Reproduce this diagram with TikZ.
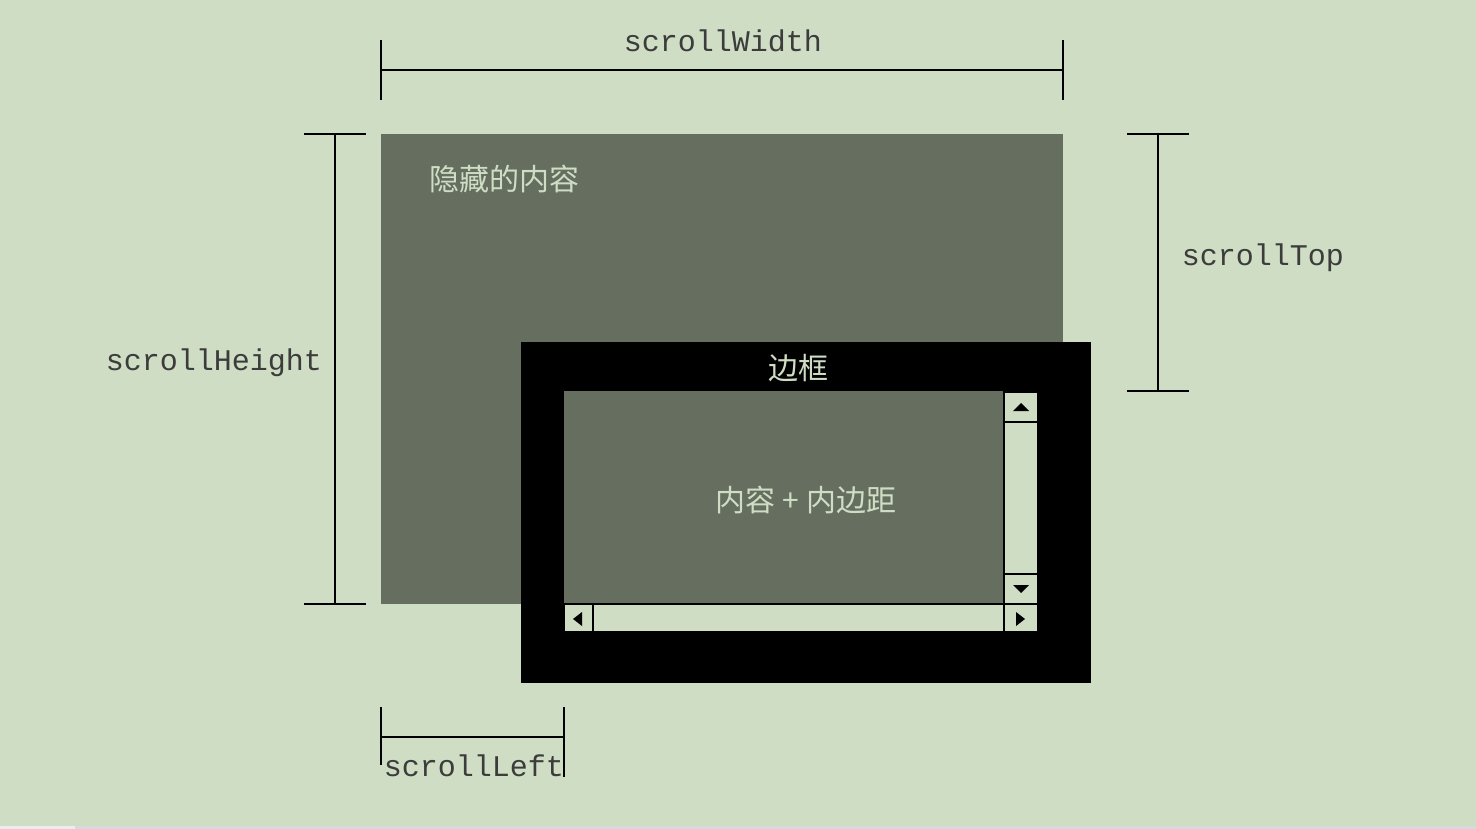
\documentclass[tikz,border=0pt]{standalone}
\usepackage{fontspec}
\setmonofont{Liberation Mono}
\newfontfamily\cjk{Noto Sans CJK SC}
\definecolor{bg}{HTML}{CEDDC3}
\definecolor{hid}{HTML}{666E60}
\definecolor{pale}{HTML}{CEDDC3}
\definecolor{lbltext}{HTML}{3C3C3C}
\definecolor{stripa}{HTML}{ECECEF}
\definecolor{stripb}{HTML}{D6DADF}
\begin{document}
\begin{tikzpicture}[x=1pt,y=-1pt,
  dimline/.style={line width=2pt, black},
  lbl/.style={font=\ttfamily\fontsize{30}{30}\selectfont, text=lbltext, inner sep=0pt},
  cjklbl/.style={font=\cjk\fontsize{30}{30}\selectfont, text=pale, inner sep=0pt},
  boxnode/.style={anchor=north west, inner sep=0pt, outer sep=0pt, draw=none},
  palebox/.style={boxnode, fill=pale},
  arrowtri/.style={fill=black}]
\fill[bg] (0,0) rectangle (1476,829);
\useasboundingbox (0,0) rectangle (1476,829);
% bottom strip
\fill[stripa] (0,826) rectangle (75,829);
\fill[stripb] (75,826) rectangle (1476,829);
% hidden content
\node[boxnode, fill=hid, minimum width=682, minimum height=470] (hidden) at (381,134) {};
\node[cjklbl, anchor=center] (hiddentxt) at (504,179) {隐藏的内容};
% border
\node[boxnode, fill=black, minimum width=570, minimum height=341] (border) at (521,342) {};
\node[cjklbl, anchor=center] (bordertxt) at (798,368) {边框};
% content
\node[boxnode, fill=hid, minimum width=439, minimum height=212] (content) at (564,391) {};
\node[cjklbl, anchor=center] (contenttxt) at (806,500) {内容 + 内边距};
% scrollbars
\node[palebox, minimum width=32, minimum height=28] (upbtn) at (1005,393) {};
\node[palebox, minimum width=32, minimum height=150] (vtrack) at (1005,423) {};
\node[palebox, minimum width=32, minimum height=28] (downbtn) at (1005,575) {};
\node[palebox, minimum width=32, minimum height=26] (rightbtn) at (1005,605) {};
\node[palebox, minimum width=27, minimum height=26] (leftbtn) at (565,605) {};
\node[palebox, minimum width=409, minimum height=26] (htrack) at (594,605) {};
\fill[arrowtri] (1013,411) -- (1029,411) -- (1021,403) -- cycle;
\fill[arrowtri] (1013,585) -- (1029,585) -- (1021,593) -- cycle;
\fill[arrowtri] (1016,612) -- (1016,626) -- (1025,619) -- cycle;
\fill[arrowtri] (582,612) -- (582,626) -- (573,619) -- cycle;
% scrollWidth
\coordinate (w1) at (381,70); \coordinate (w2) at (1063,70);
\coordinate (w1a) at (381,40); \coordinate (w1b) at (381,100);
\coordinate (w2a) at (1063,40); \coordinate (w2b) at (1063,100);
\draw[dimline] (w1) -- (w2);
\draw[dimline] (w1a) -- (w1b);
\draw[dimline] (w2a) -- (w2b);
\node[lbl, anchor=base] (wtxt) at (723,52) {scrollWidth};
% scrollHeight
\coordinate (h1) at (335,134); \coordinate (h2) at (335,604);
\coordinate (h1a) at (304,134); \coordinate (h1b) at (366,134);
\coordinate (h2a) at (304,604); \coordinate (h2b) at (366,604);
\draw[dimline] (h1) -- (h2);
\draw[dimline] (h1a) -- (h1b);
\draw[dimline] (h2a) -- (h2b);
\node[lbl, anchor=base] (htxt) at (214,370) {scrollHeight};
% scrollTop
\coordinate (t1) at (1158,134); \coordinate (t2) at (1158,391);
\coordinate (t1a) at (1127,134); \coordinate (t1b) at (1189,134);
\coordinate (t2a) at (1127,391); \coordinate (t2b) at (1189,391);
\draw[dimline] (t1) -- (t2);
\draw[dimline] (t1a) -- (t1b);
\draw[dimline] (t2a) -- (t2b);
\node[lbl, anchor=base] (ttxt) at (1263,266) {scrollTop};
% scrollLeft
\coordinate (l1) at (381,737); \coordinate (l2) at (564,737);
\coordinate (l1a) at (381,707); \coordinate (l1b) at (381,765);
\coordinate (l2a) at (564,707); \coordinate (l2b) at (564,777);
\draw[dimline] (l1) -- (l2);
\draw[dimline] (l1a) -- (l1b);
\draw[dimline] (l2a) -- (l2b);
\node[lbl, anchor=base] (ltxt) at (474,776) {scrollLeft};
\end{tikzpicture}
\end{document}
